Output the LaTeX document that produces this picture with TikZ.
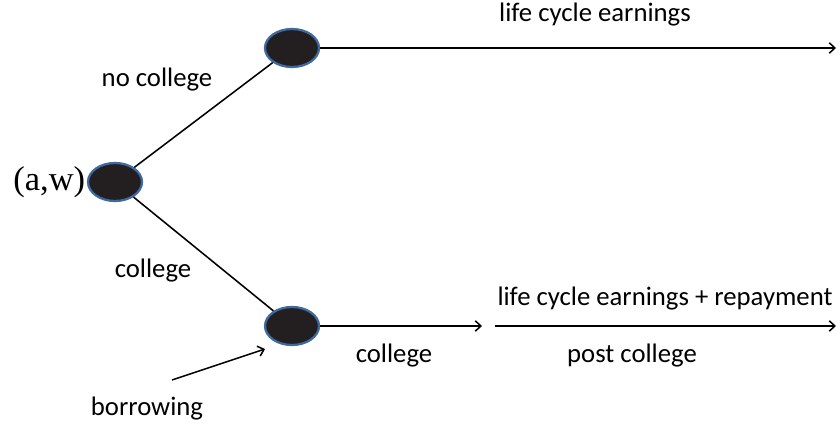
\documentclass[tikz,border=0pt]{standalone}
\usepackage{fontspec}
\setmainfont{Carlito}
\newfontfamily\awfont{Liberation Serif}
\usetikzlibrary{shapes,positioning}
\usetikzlibrary{arrows.meta}
\tikzset{>={Straight Barb[width=2.6mm,length=1.4mm]}}
\definecolor{dotfill}{RGB}{35,31,32}
\definecolor{dotedge}{RGB}{62,106,160}

\begin{document}
\begin{tikzpicture}[x=0.025cm,y=-0.025cm]
    \tikzstyle{dnode} = [ellipse, draw=dotedge, line width=1.6pt, fill=dotfill, minimum width=1.35cm, minimum height=0.95cm, inner sep=0pt]
    \tikzstyle{lnode} = [inner sep=0pt, font=\fontsize{19}{22}\selectfont]
    \useasboundingbox (0,0) rectangle (840,426);

    \node[dnode] (aw) at (115,182) {};
    \node[dnode] (nc) at (292,48) {};
    \node[dnode] (co) at (292,326) {};
    \node[inner sep=1pt, left=0pt of aw, font=\awfont\fontsize{24.5}{28}\selectfont] (awtext) {(a,w)};

    \coordinate (ncend) at (836,48);
    \coordinate (coend) at (482,326);
    \coordinate (pcstart) at (495,326);
    \coordinate (pcend) at (836,326);
    \coordinate (bstart) at (172,380);

    \node[lnode] (ncl) at (157,80) {no college};
    \node[lnode] (cl) at (153,271) {college};
    \node[lnode] (lce) at (595,15) {life cycle earnings};
    \node[lnode] (lcer) at (665,299) {life cycle earnings + repayment};
    \node[lnode] (inc) at (394,356) {college};
    \node[lnode] (post) at (632,356) {post college};
    \node[lnode] (bor) at (147,409) {borrowing};

    \draw[line width=1.1pt] (aw) -- (nc);
    \draw[line width=1.1pt] (aw) -- (co);
    \draw[->, line width=1.1pt] (nc) -- (ncend);
    \draw[->, line width=1.1pt] (co) -- (coend);
    \draw[->, line width=1.1pt] (pcstart) -- (pcend);
    \draw[->, line width=1.1pt] (bstart) -- (265,349);
\end{tikzpicture}
\end{document}
